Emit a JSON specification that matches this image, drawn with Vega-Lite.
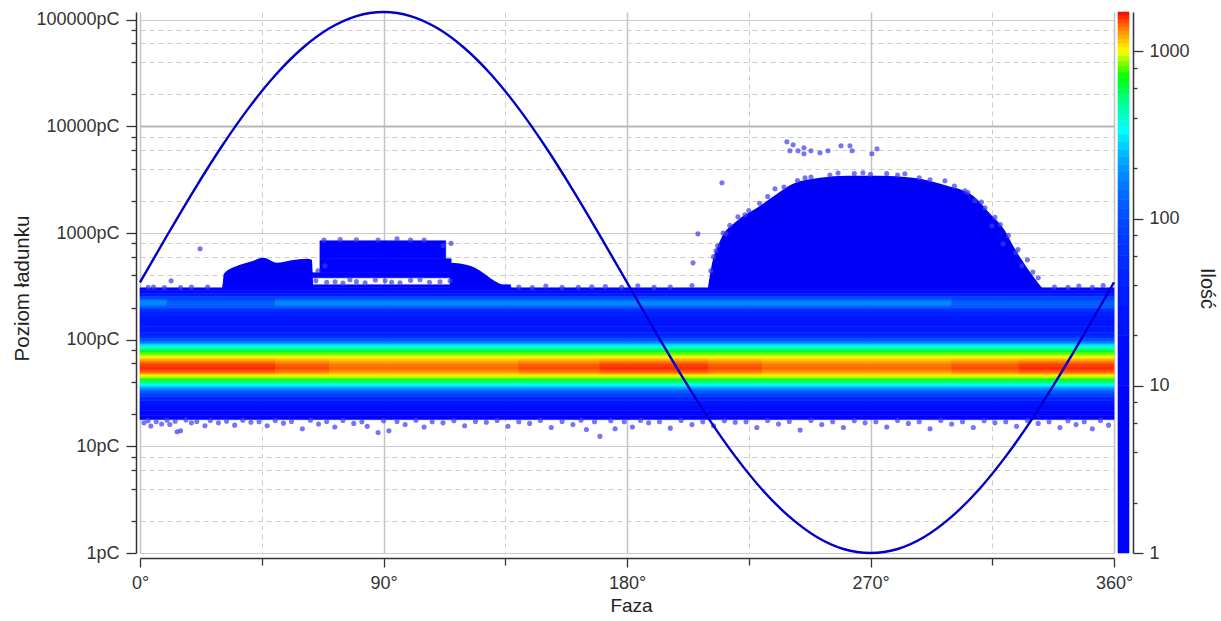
{"$schema":"https://vega.github.io/schema/vega-lite/v6.json","background":"white","padding":{"left":12,"top":7,"right":5,"bottom":5},"bounds":"flush","spacing":4,"config":{"view":{"stroke":null},"axis":{"labelFont":"Liberation Sans","titleFont":"Liberation Sans","labelFontSize":18,"titleFontSize":18,"labelColor":"#333","titleColor":"#222","titleFontWeight":"normal","domainColor":"#333","domainWidth":1.5,"tickColor":"#333","tickWidth":1.3,"labelOverlap":false,"labelBound":false,"labelFlush":false}},"hconcat":[{"width":974,"height":541,"encoding":{"x":{"field":"x","type":"quantitative","scale":{"domain":[0,360],"nice":false,"zero":false},"axis":{"title":"Faza","titleFontSize":19,"titleX":491,"titleY":38,"offset":5,"values":[0,45,90,135,180,225,270,315,360],"labelExpr":"datum.value%90==0?datum.value+'°':''","tickSize":{"condition":{"test":"datum.value%90==0","value":9},"value":7},"labelPadding":7,"grid":true,"gridColor":{"condition":{"test":"datum.value%90==0","value":"#c4c4c4"},"value":"#cccccc"},"gridDash":{"condition":{"test":"datum.value%90==0","value":[]},"value":[5,4]},"gridWidth":{"condition":{"test":"datum.value%90==0","value":1.5},"value":1}}},"y":{"field":"q","type":"quantitative","scale":{"type":"log","domain":[1,118000],"nice":false},"axis":{"title":"Poziom ładunku","titleFontSize":20.5,"titleX":-104,"titleY":276,"offset":4,"values":[1,2,4,6,8,10,20,40,60,80,100,200,400,600,800,1000,2000,4000,6000,8000,10000,20000,40000,60000,80000,100000],"labelExpr":"indexof([1,10,100,1000,10000,100000],datum.value)>=0?datum.value+'pC':''","tickSize":{"condition":{"test":"indexof([1,10,100,1000,10000,100000],datum.value)>=0","value":10},"value":5},"labelPadding":7,"grid":true,"gridColor":{"condition":{"test":"datum.value==10000","value":"#b8b8b8"},"value":"#cccccc"},"gridDash":{"condition":{"test":"indexof([1,10,100,1000,10000,100000],datum.value)>=0","value":[]},"value":[5,4]},"gridWidth":{"condition":{"test":"datum.value==10000","value":2},"value":1.2}}}},"layer":[{"data":{"values":[{"x":30.5,"q":306,"g":1},{"x":31,"q":414,"g":1},{"x":36,"q":492,"g":1},{"x":41,"q":540,"g":1},{"x":45.6,"q":585,"g":1},{"x":50.6,"q":526,"g":1},{"x":56,"q":555,"g":1},{"x":61.7,"q":573,"g":1},{"x":63.5,"q":560,"g":1},{"x":64,"q":320,"g":1},{"x":114.5,"q":320,"g":2},{"x":114.6,"q":526,"g":2},{"x":122,"q":492,"g":2},{"x":125.7,"q":442,"g":2},{"x":129.4,"q":379,"g":2},{"x":133,"q":334,"g":2},{"x":137.5,"q":306,"g":2},{"x":209.9,"q":306,"g":3},{"x":211.4,"q":514,"g":3},{"x":214.4,"q":845,"g":3},{"x":220.7,"q":1300,"g":3},{"x":228.1,"q":1723,"g":3},{"x":235.5,"q":2332,"g":3},{"x":241.4,"q":2897,"g":3},{"x":251.3,"q":3296,"g":3},{"x":261.3,"q":3443,"g":3},{"x":273.5,"q":3443,"g":3},{"x":285.7,"q":3296,"g":3},{"x":298.3,"q":2771,"g":3},{"x":307.9,"q":2233,"g":3},{"x":314.2,"q":1514,"g":3},{"x":319.7,"q":1049,"g":3},{"x":322.7,"q":758,"g":3},{"x":327.9,"q":471,"g":3},{"x":333.4,"q":306,"g":3}]},"mark":{"type":"area","color":"#0000f8","interpolate":"monotone"},"encoding":{"y2":{"datum":300},"detail":{"field":"g"}}},{"data":{"values":[{"x":0,"x2":360,"q":306,"q2":287,"n":8},{"x":0,"x2":360,"q":287,"q2":269,"n":15},{"x":0,"x2":360,"q":269,"q2":252,"n":35},{"x":0,"x2":360,"q":252,"q2":241,"n":90},{"x":0,"x2":10,"q":241,"q2":231,"n":130},{"x":10,"x2":50,"q":241,"q2":231,"n":95},{"x":50,"x2":300,"q":241,"q2":231,"n":130},{"x":300,"x2":360,"q":241,"q2":231,"n":95},{"x":0,"x2":10,"q":231,"q2":221,"n":175},{"x":10,"x2":50,"q":231,"q2":221,"n":125},{"x":50,"x2":300,"q":231,"q2":221,"n":175},{"x":300,"x2":360,"q":231,"q2":221,"n":125},{"x":0,"x2":10,"q":221,"q2":212,"n":180},{"x":10,"x2":50,"q":221,"q2":212,"n":125},{"x":50,"x2":300,"q":221,"q2":212,"n":180},{"x":300,"x2":360,"q":221,"q2":212,"n":125},{"x":0,"x2":10,"q":212,"q2":203,"n":150},{"x":10,"x2":50,"q":212,"q2":203,"n":110},{"x":50,"x2":300,"q":212,"q2":203,"n":150},{"x":300,"x2":360,"q":212,"q2":203,"n":110},{"x":0,"x2":360,"q":203,"q2":195,"n":110},{"x":0,"x2":360,"q":195,"q2":182,"n":65},{"x":0,"x2":360,"q":182,"q2":167,"n":45},{"x":0,"x2":360,"q":167,"q2":150,"n":32},{"x":0,"x2":360,"q":150,"q2":132,"n":28},{"x":0,"x2":360,"q":132,"q2":116,"n":32},{"x":0,"x2":360,"q":116,"q2":106,"n":48},{"x":0,"x2":360,"q":106,"q2":102,"n":70},{"x":0,"x2":360,"q":102,"q2":97.4,"n":100},{"x":0,"x2":360,"q":97.4,"q2":93.3,"n":150},{"x":0,"x2":360,"q":93.3,"q2":89.4,"n":215},{"x":0,"x2":360,"q":89.4,"q2":85.6,"n":300},{"x":0,"x2":360,"q":85.6,"q2":82,"n":400},{"x":0,"x2":360,"q":82,"q2":78.5,"n":530},{"x":0,"x2":360,"q":78.5,"q2":75.2,"n":680},{"x":0,"x2":360,"q":75.2,"q2":72,"n":800},{"x":0,"x2":360,"q":72,"q2":69,"n":930},{"x":0,"x2":360,"q":69,"q2":66.1,"n":1040},{"x":0,"x2":50,"q":66.1,"q2":63.3,"n":1200},{"x":50,"x2":70,"q":66.1,"q2":63.3,"n":1160},{"x":70,"x2":140,"q":66.1,"q2":63.3,"n":1120},{"x":140,"x2":170,"q":66.1,"q2":63.3,"n":1160},{"x":170,"x2":210,"q":66.1,"q2":63.3,"n":1200},{"x":210,"x2":230,"q":66.1,"q2":63.3,"n":1160},{"x":230,"x2":300,"q":66.1,"q2":63.3,"n":1120},{"x":300,"x2":325,"q":66.1,"q2":63.3,"n":1160},{"x":325,"x2":360,"q":66.1,"q2":63.3,"n":1200},{"x":0,"x2":50,"q":63.3,"q2":60.6,"n":1350},{"x":50,"x2":70,"q":63.3,"q2":60.6,"n":1295},{"x":70,"x2":140,"q":63.3,"q2":60.6,"n":1240},{"x":140,"x2":170,"q":63.3,"q2":60.6,"n":1295},{"x":170,"x2":210,"q":63.3,"q2":60.6,"n":1350},{"x":210,"x2":230,"q":63.3,"q2":60.6,"n":1295},{"x":230,"x2":300,"q":63.3,"q2":60.6,"n":1240},{"x":300,"x2":325,"q":63.3,"q2":60.6,"n":1295},{"x":325,"x2":360,"q":63.3,"q2":60.6,"n":1350},{"x":0,"x2":50,"q":60.6,"q2":58,"n":1480},{"x":50,"x2":70,"q":60.6,"q2":58,"n":1405},{"x":70,"x2":140,"q":60.6,"q2":58,"n":1330},{"x":140,"x2":170,"q":60.6,"q2":58,"n":1405},{"x":170,"x2":210,"q":60.6,"q2":58,"n":1480},{"x":210,"x2":230,"q":60.6,"q2":58,"n":1405},{"x":230,"x2":300,"q":60.6,"q2":58,"n":1330},{"x":300,"x2":325,"q":60.6,"q2":58,"n":1405},{"x":325,"x2":360,"q":60.6,"q2":58,"n":1480},{"x":0,"x2":50,"q":58,"q2":55.6,"n":1560},{"x":50,"x2":70,"q":58,"q2":55.6,"n":1475},{"x":70,"x2":140,"q":58,"q2":55.6,"n":1390},{"x":140,"x2":170,"q":58,"q2":55.6,"n":1475},{"x":170,"x2":210,"q":58,"q2":55.6,"n":1560},{"x":210,"x2":230,"q":58,"q2":55.6,"n":1475},{"x":230,"x2":300,"q":58,"q2":55.6,"n":1390},{"x":300,"x2":325,"q":58,"q2":55.6,"n":1475},{"x":325,"x2":360,"q":58,"q2":55.6,"n":1560},{"x":0,"x2":50,"q":55.6,"q2":53.2,"n":1600},{"x":50,"x2":70,"q":55.6,"q2":53.2,"n":1510},{"x":70,"x2":140,"q":55.6,"q2":53.2,"n":1420},{"x":140,"x2":170,"q":55.6,"q2":53.2,"n":1510},{"x":170,"x2":210,"q":55.6,"q2":53.2,"n":1600},{"x":210,"x2":230,"q":55.6,"q2":53.2,"n":1510},{"x":230,"x2":300,"q":55.6,"q2":53.2,"n":1420},{"x":300,"x2":325,"q":55.6,"q2":53.2,"n":1510},{"x":325,"x2":360,"q":55.6,"q2":53.2,"n":1600},{"x":0,"x2":50,"q":53.2,"q2":51,"n":1570},{"x":50,"x2":70,"q":53.2,"q2":51,"n":1480},{"x":70,"x2":140,"q":53.2,"q2":51,"n":1390},{"x":140,"x2":170,"q":53.2,"q2":51,"n":1480},{"x":170,"x2":210,"q":53.2,"q2":51,"n":1570},{"x":210,"x2":230,"q":53.2,"q2":51,"n":1480},{"x":230,"x2":300,"q":53.2,"q2":51,"n":1390},{"x":300,"x2":325,"q":53.2,"q2":51,"n":1480},{"x":325,"x2":360,"q":53.2,"q2":51,"n":1570},{"x":0,"x2":50,"q":51,"q2":48.8,"n":1470},{"x":50,"x2":70,"q":51,"q2":48.8,"n":1390},{"x":70,"x2":140,"q":51,"q2":48.8,"n":1310},{"x":140,"x2":170,"q":51,"q2":48.8,"n":1390},{"x":170,"x2":210,"q":51,"q2":48.8,"n":1470},{"x":210,"x2":230,"q":51,"q2":48.8,"n":1390},{"x":230,"x2":300,"q":51,"q2":48.8,"n":1310},{"x":300,"x2":325,"q":51,"q2":48.8,"n":1390},{"x":325,"x2":360,"q":51,"q2":48.8,"n":1470},{"x":0,"x2":50,"q":48.8,"q2":46.8,"n":1280},{"x":50,"x2":70,"q":48.8,"q2":46.8,"n":1220},{"x":70,"x2":140,"q":48.8,"q2":46.8,"n":1160},{"x":140,"x2":170,"q":48.8,"q2":46.8,"n":1220},{"x":170,"x2":210,"q":48.8,"q2":46.8,"n":1280},{"x":210,"x2":230,"q":48.8,"q2":46.8,"n":1220},{"x":230,"x2":300,"q":48.8,"q2":46.8,"n":1160},{"x":300,"x2":325,"q":48.8,"q2":46.8,"n":1220},{"x":325,"x2":360,"q":48.8,"q2":46.8,"n":1280},{"x":0,"x2":360,"q":46.8,"q2":44.8,"n":1060},{"x":0,"x2":360,"q":44.8,"q2":42.9,"n":890},{"x":0,"x2":360,"q":42.9,"q2":41.1,"n":720},{"x":0,"x2":360,"q":41.1,"q2":39.3,"n":560},{"x":0,"x2":360,"q":39.3,"q2":37.7,"n":420},{"x":0,"x2":360,"q":37.7,"q2":36.1,"n":320},{"x":0,"x2":360,"q":36.1,"q2":34.6,"n":230},{"x":0,"x2":360,"q":34.6,"q2":33.1,"n":170},{"x":0,"x2":360,"q":33.1,"q2":31,"n":120},{"x":0,"x2":360,"q":31,"q2":29.1,"n":80},{"x":0,"x2":360,"q":29.1,"q2":26.7,"n":50},{"x":0,"x2":360,"q":26.7,"q2":23.9,"n":28},{"x":0,"x2":360,"q":23.9,"q2":21.5,"n":14},{"x":0,"x2":360,"q":21.5,"q2":19.3,"n":7},{"x":0,"x2":360,"q":19.3,"q2":17.8,"n":3},{"x":66.5,"x2":113,"q":845,"q2":573,"n":3},{"x":66.5,"x2":115,"q":573,"q2":424,"n":3},{"x":63.5,"x2":117,"q":424,"q2":380,"n":3},{"x":30.6,"x2":137,"q":327,"q2":306,"n":3}]},"mark":{"type":"rect","strokeWidth":0.6},"encoding":{"x2":{"field":"x2"},"y2":{"field":"q2"},"fill":{"field":"n","type":"quantitative","legend":null,"scale":{"type":"linear","domain":[0,335,705,1000,1720],"range":["#0000ff","#00ffff","#00ff00","#ffff00","#ff0000"],"interpolate":"rgb"}},"stroke":{"field":"n","type":"quantitative","legend":null,"scale":{"type":"linear","domain":[0,335,705,1000,1720],"range":["#0000ff","#00ffff","#00ff00","#ffff00","#ff0000"],"interpolate":"rgb"}}}},{"data":{"values":[{"x":239.1,"q":7170},{"x":241.4,"q":6720},{"x":240.2,"q":5900},{"x":243.2,"q":5900},{"x":245.4,"q":6300},{"x":245.4,"q":5530},{"x":248,"q":5900},{"x":251.3,"q":5650},{"x":254.3,"q":5900},{"x":259.1,"q":6580},{"x":262.4,"q":6580},{"x":263.2,"q":5900},{"x":270.5,"q":5530},{"x":272.4,"q":6160},{"x":267.2,"q":3670},{"x":215.1,"q":2960},{"x":206.2,"q":982},{"x":204.4,"q":525},{"x":22.2,"q":711},{"x":11.5,"q":356},{"x":308.6,"q":2005},{"x":312.3,"q":1723},{"x":314.9,"q":1168},{"x":319,"q":792},{"x":323.7,"q":652},{"x":325.9,"q":492},{"x":212.9,"q":681},{"x":211,"q":442},{"x":216.6,"q":982},{"x":223.6,"q":1482},{"x":234.7,"q":2600},{"x":245.8,"q":3296},{"x":282.7,"q":3592},{"x":297.5,"q":3090},{"x":304.9,"q":2488},{"x":212,"q":600},{"x":213.5,"q":760},{"x":215.5,"q":1000},{"x":218,"q":1180},{"x":221,"q":1420},{"x":225,"q":1620},{"x":229,"q":1900},{"x":232,"q":2200},{"x":238,"q":2700},{"x":243,"q":3100},{"x":248,"q":3350},{"x":255,"q":3500},{"x":258,"q":3650},{"x":264,"q":3600},{"x":270,"q":3550},{"x":276,"q":3600},{"x":280,"q":3500},{"x":288,"q":3300},{"x":292,"q":3150},{"x":301,"q":2750},{"x":306,"q":2400},{"x":311,"q":1950},{"x":316,"q":1400},{"x":318,"q":1200},{"x":321,"q":950},{"x":324.5,"q":700},{"x":328,"q":560},{"x":330,"q":430},{"x":332,"q":380},{"x":65.8,"q":442},{"x":68.4,"q":492},{"x":65,"q":356},{"x":69,"q":345},{"x":72.1,"q":349},{"x":75,"q":340},{"x":77.6,"q":364},{"x":80,"q":350},{"x":83.2,"q":341},{"x":87,"q":362},{"x":90.6,"q":356},{"x":93,"q":345},{"x":96.1,"q":341},{"x":100,"q":360},{"x":103.5,"q":364},{"x":107,"q":345},{"x":110.9,"q":349},{"x":114.6,"q":356},{"x":115,"q":800},{"x":112,"q":760},{"x":68,"q":860},{"x":74,"q":870},{"x":80,"q":865},{"x":88,"q":860},{"x":95,"q":880},{"x":100,"q":860},{"x":105,"q":860},{"x":3,"q":310},{"x":5,"q":312},{"x":9,"q":308},{"x":15,"q":308},{"x":19,"q":311},{"x":25,"q":312},{"x":140,"q":312},{"x":145,"q":308},{"x":150,"q":318},{"x":156,"q":309},{"x":162,"q":310},{"x":167,"q":313},{"x":172,"q":315},{"x":178,"q":310},{"x":184,"q":320},{"x":190,"q":309},{"x":196,"q":312},{"x":204,"q":322},{"x":338,"q":312},{"x":343,"q":309},{"x":347,"q":318},{"x":352,"q":310},{"x":356,"q":322},{"x":1.5,"q":16.6},{"x":4,"q":15.5},{"x":8,"q":16.2},{"x":11,"q":16},{"x":13.7,"q":13.7},{"x":15,"q":14},{"x":19,"q":16.6},{"x":24,"q":15.6},{"x":29,"q":16.6},{"x":35,"q":15.8},{"x":41,"q":16.8},{"x":47,"q":15.6},{"x":53,"q":16.5},{"x":60,"q":14.6},{"x":66,"q":16.2},{"x":72,"q":15.2},{"x":79,"q":16.4},{"x":84,"q":15.4},{"x":88,"q":13.5},{"x":92,"q":14},{"x":98,"q":16},{"x":105,"q":15.2},{"x":112,"q":16.6},{"x":120,"q":15.6},{"x":128,"q":16.8},{"x":136,"q":15.4},{"x":144,"q":16.4},{"x":152,"q":15},{"x":160,"q":16},{"x":165,"q":14.4},{"x":170,"q":12.4},{"x":175.6,"q":14.6},{"x":182,"q":15.2},{"x":188,"q":16.6},{"x":196,"q":14.8},{"x":204,"q":16},{"x":212,"q":15.6},{"x":220,"q":16.8},{"x":228,"q":15},{"x":236,"q":16.2},{"x":244,"q":14.2},{"x":252,"q":16},{"x":260,"q":15},{"x":268,"q":16.6},{"x":276,"q":15.2},{"x":284,"q":16.4},{"x":292,"q":14.6},{"x":300,"q":16.2},{"x":308,"q":15},{"x":316,"q":16.6},{"x":324,"q":15.4},{"x":332,"q":16.4},{"x":340,"q":15},{"x":346,"q":16},{"x":352,"q":14.6},{"x":358,"q":15.8},{"x":3,"q":17.4},{"x":6,"q":17},{"x":10,"q":17.6},{"x":13,"q":17.2},{"x":17,"q":17.7},{"x":21,"q":17.1},{"x":26,"q":17.5},{"x":32,"q":17.2},{"x":38,"q":17.6},{"x":44,"q":17},{"x":50,"q":17.5},{"x":56,"q":17.1},{"x":63,"q":17.6},{"x":69,"q":17.1},{"x":75,"q":17.5},{"x":82,"q":17},{"x":90,"q":17.4},{"x":95,"q":17.1},{"x":102,"q":17.6},{"x":108,"q":17},{"x":116,"q":17.4},{"x":124,"q":17.1},{"x":132,"q":17.5},{"x":140,"q":17},{"x":148,"q":17.5},{"x":156,"q":17.1},{"x":163,"q":17.6},{"x":168,"q":17},{"x":174,"q":17.4},{"x":179,"q":17},{"x":185,"q":17.5},{"x":192,"q":17},{"x":200,"q":17.5},{"x":208,"q":17},{"x":216,"q":17.4},{"x":224,"q":17},{"x":232,"q":17.5},{"x":240,"q":17.1},{"x":248,"q":17.5},{"x":256,"q":17},{"x":264,"q":17.4},{"x":272,"q":17},{"x":280,"q":17.5},{"x":288,"q":17},{"x":296,"q":17.5},{"x":304,"q":17},{"x":312,"q":17.4},{"x":320,"q":17},{"x":328,"q":17.5},{"x":336,"q":17},{"x":343,"q":17.4},{"x":349,"q":17},{"x":355,"q":17.5}]},"mark":{"type":"point","filled":true,"size":26,"color":"#3c3cf0","opacity":0.7}},{"data":{"values":[{"x":0,"q":344},{"x":10,"q":947},{"x":20,"q":2529},{"x":30,"q":6368},{"x":40,"q":14660},{"x":50,"q":30130},{"x":60,"q":53950},{"x":70,"q":82990},{"x":80,"q":108100},{"x":90,"q":118000},{"x":100,"q":108100},{"x":110,"q":82990},{"x":120,"q":53950},{"x":130,"q":30130},{"x":140,"q":14660},{"x":150,"q":6368},{"x":160,"q":2529},{"x":170,"q":947},{"x":180,"q":344},{"x":190,"q":124.7},{"x":200,"q":46.7},{"x":210,"q":18.5},{"x":220,"q":8.05},{"x":230,"q":3.92},{"x":240,"q":2.19},{"x":250,"q":1.42},{"x":260,"q":1.09},{"x":270,"q":1},{"x":280,"q":1.09},{"x":290,"q":1.42},{"x":300,"q":2.19},{"x":310,"q":3.92},{"x":320,"q":8.05},{"x":330,"q":18.5},{"x":340,"q":46.7},{"x":350,"q":124.7},{"x":360,"q":344}]},"mark":{"type":"line","color":"#0000c8","strokeWidth":2.4,"interpolate":"monotone","clip":false}}]},{"width":11,"height":541,"data":{"values":[{"q":1,"q2":10,"n":5},{"q":10,"q2":20,"n":15},{"q":20,"q2":30,"n":25},{"q":30,"q2":40,"n":35},{"q":40,"q2":50,"n":45},{"q":50,"q2":60,"n":55},{"q":60,"q2":70,"n":65},{"q":70,"q2":80,"n":75},{"q":80,"q2":90,"n":85},{"q":90,"q2":100,"n":95},{"q":100,"q2":115,"n":107},{"q":115,"q2":130,"n":122},{"q":130,"q2":150,"n":140},{"q":150,"q2":170,"n":160},{"q":170,"q2":190,"n":180},{"q":190,"q2":210,"n":200},{"q":210,"q2":235,"n":222},{"q":235,"q2":260,"n":247},{"q":260,"q2":290,"n":275},{"q":290,"q2":320,"n":305},{"q":320,"q2":350,"n":335},{"q":350,"q2":385,"n":367},{"q":385,"q2":420,"n":402},{"q":420,"q2":460,"n":440},{"q":460,"q2":500,"n":480},{"q":500,"q2":550,"n":525},{"q":550,"q2":600,"n":575},{"q":600,"q2":650,"n":625},{"q":650,"q2":700,"n":675},{"q":700,"q2":760,"n":730},{"q":760,"q2":820,"n":790},{"q":820,"q2":880,"n":850},{"q":880,"q2":940,"n":910},{"q":940,"q2":1000,"n":970},{"q":1000,"q2":1060,"n":1030},{"q":1060,"q2":1120,"n":1090},{"q":1120,"q2":1190,"n":1155},{"q":1190,"q2":1260,"n":1225},{"q":1260,"q2":1330,"n":1295},{"q":1330,"q2":1400,"n":1365},{"q":1400,"q2":1480,"n":1440},{"q":1480,"q2":1560,"n":1520},{"q":1560,"q2":1640,"n":1600},{"q":1640,"q2":1720,"n":1680}]},"mark":{"type":"rect","strokeWidth":0.6},"encoding":{"y":{"field":"q","type":"quantitative","scale":{"type":"log","domain":[1,1720],"nice":false},"axis":{"orient":"right","offset":4,"title":"Ilość","titleFontSize":20,"titleAngle":90,"titleX":63,"titleY":276,"values":[1,2,4,6,8,10,20,40,60,80,100,200,400,600,800,1000],"labelExpr":"indexof([1,10,100,1000],datum.value)>=0?datum.value:''","tickSize":{"condition":{"test":"indexof([1,10,100,1000],datum.value)>=0","value":10},"value":4},"labelPadding":6,"grid":false}},"y2":{"field":"q2"},"fill":{"field":"n","type":"quantitative","legend":null,"scale":{"type":"linear","domain":[0,335,705,1000,1720],"range":["#0000ff","#00ffff","#00ff00","#ffff00","#ff0000"],"interpolate":"rgb"}},"stroke":{"field":"n","type":"quantitative","legend":null,"scale":{"type":"linear","domain":[0,335,705,1000,1720],"range":["#0000ff","#00ffff","#00ff00","#ffff00","#ff0000"],"interpolate":"rgb"}}}}]}
